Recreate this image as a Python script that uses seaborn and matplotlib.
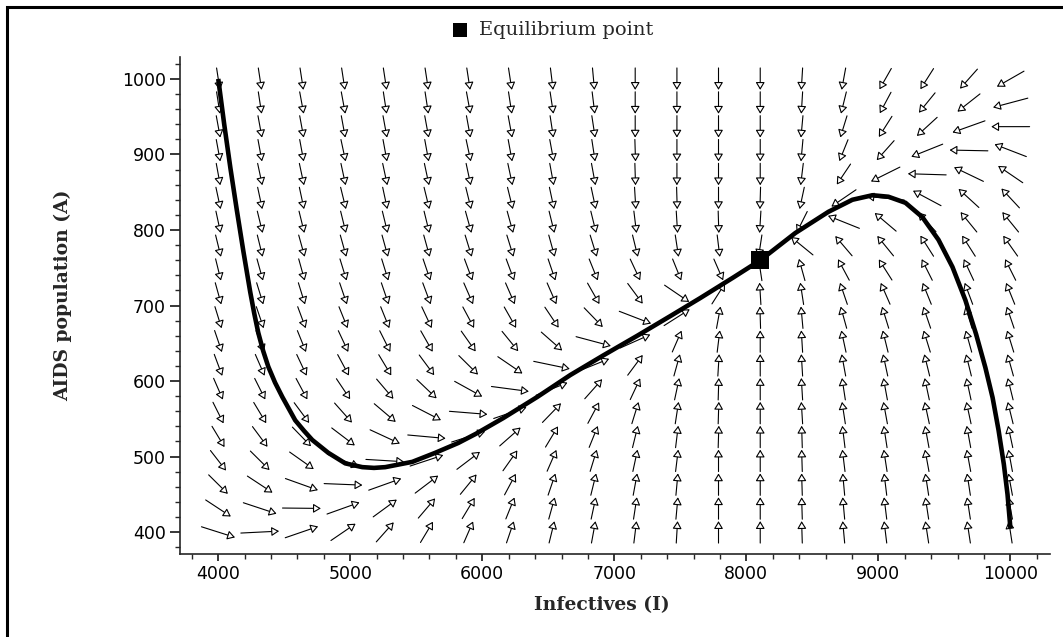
import numpy as np
import pandas as pd
import matplotlib
matplotlib.use("Agg")
import matplotlib.pyplot as plt
import seaborn as sns
from matplotlib.patches import FancyArrowPatch, Rectangle
from matplotlib.ticker import MultipleLocator

# ---- direction-field sample grid -------------------------------------------
infectives_grid = [4000, 4316, 4632, 4947, 5263, 5579, 5895, 6211, 6526, 6842,
                   7158, 7474, 7789, 8105, 8421, 8737, 9053, 9368, 9684, 10000]
aids_grid = [400.0, 431.6, 463.2, 494.7, 526.3, 557.9, 589.5, 621.1, 652.6, 684.2,
             715.8, 747.4, 778.9, 810.5, 842.1, 873.7, 905.3, 936.8, 968.4, 1000.0]

# arrow heading in degrees (measured in grid-cell units), one list per column,
# bottom row (A = 400) first
field_angles = [
    [-29, -49, -60, -66, -71, -74, -76, -78, -79, -80, -81, -82, -82, -83, -83, -84, -84, -84, -85, -85],
    [5, -30, -49, -60, -67, -71, -74, -76, -78, -79, -80, -81, -82, -82, -83, -83, -84, -84, -85, -85],
    [31, -1, -32, -51, -61, -67, -73, -75, -77, -78, -80, -81, -81, -82, -83, -83, -84, -84, -84, -85],
    [50, 32, -4, -35, -53, -63, -69, -73, -75, -77, -79, -80, -81, -82, -82, -83, -83, -84, -84, -85],
    [63, 52, 32, -6, -39, -56, -64, -71, -74, -77, -79, -80, -81, -82, -83, -83, -84, -84, -85, -85],
    [71, 64, 53, 30, -9, -42, -59, -67, -72, -75, -78, -79, -81, -82, -82, -83, -84, -84, -85, -85],
    [76, 71, 65, 53, 29, -8, -44, -60, -68, -73, -76, -78, -80, -81, -82, -83, -83, -84, -84, -85],
    [79, 77, 73, 68, 57, 31, -13, -50, -65, -72, -76, -78, -80, -81, -82, -83, -84, -84, -85, -85],
    [82, 81, 79, 76, 71, 61, 35, -20, -57, -69, -76, -79, -81, -82, -83, -84, -84, -85, -85, -86],
    [84, 83, 82, 80, 77, 73, 63, 35, -25, -61, -72, -77, -80, -82, -83, -84, -85, -85, -86, -87],
    [86, 85, 84, 83, 82, 80, 75, 67, 38, -34, -67, -75, -82, -86, -88, -89, -89, -90, -90, -90],
    [88, 87, 87, 86, 86, 85, 83, 81, 76, 48, -50, -77, -85, -88, -89, -90, -90, -90, -90, -90],
    [90, 90, 90, 90, 89, 89, 89, 88, 86, 84, 70, -76, -86, -89, -90, -90, -90, -90, -90, -90],
    [90, 90, 90, 90, 90, 90, 90, 90, 90, 91, 92, 95, -95, -92, -91, -90, -90, -90, -90, -90],
    [91, 91, 91, 91, 91, 92, 92, 92, 92, 93, 95, 99, 125, -106, -97, -94, -93, -93, -92, -92],
    [93, 93, 93, 94, 94, 95, 95, 96, 97, 99, 101, 107, 116, 145, -130, -111, -103, -100, -98, -96],
    [94, 94, 94, 95, 95, 96, 96, 97, 98, 100, 104, 110, 115, 124, 170, -139, -117, -110, -107, -108],
    [95, 95, 95, 96, 96, 97, 97, 98, 100, 101, 103, 106, 110, 118, 137, 177, -145, -122, -115, -110],
    [95, 95, 95, 96, 96, 97, 97, 98, 99, 100, 102, 105, 110, 115, 122, 140, 178, -148, -126, -117],
    [95, 96, 96, 96, 97, 98, 98, 99, 100, 101, 103, 106, 112, 115, 118, 130, 146, 180, -155, -135],
]

# solution curve starting at (4000, 1000) and running into the equilibrium
traj_left_I = [4000, 4045, 4092, 4140, 4190, 4242, 4272, 4303, 4340, 4379, 4430, 4485,
               4583, 4650, 4712, 4833, 4962, 5091, 5180, 5265, 5470, 5644, 5818, 5950,
               6159, 6417, 6667, 6917, 7174, 7424, 7652, 7900, 8106]
traj_left_A = [1000, 940, 882, 827, 772, 718, 690, 664, 640, 619, 598, 579,
               548, 534, 522, 505, 491, 486, 485, 486, 493, 505, 518, 530,
               551, 579, 608, 634, 660, 686, 710, 737, 760]

# solution curve starting at (10000, 405) and running into the equilibrium
traj_right_I = [10000, 9978, 9950, 9910, 9865, 9810, 9740, 9659, 9561, 9455, 9333,
                9205, 9076, 8955, 8803, 8621, 8371, 8106]
traj_right_A = [405, 450, 490, 535, 578, 618, 662, 707, 751, 787, 817,
                836, 844, 846, 840, 824, 796, 760]

equilibrium_I = [8106]
equilibrium_A = [760]

# ---- styling ----------------------------------------------------------------
sns.set_style("ticks")
plt.rcParams["font.family"] = ["DejaVu Sans"]
plt.rcParams["axes.linewidth"] = 1.2
plt.rcParams["xtick.major.width"] = 1.1
plt.rcParams["ytick.major.width"] = 1.1
plt.rcParams["xtick.minor.width"] = 1.0
plt.rcParams["ytick.minor.width"] = 1.0

fig = plt.figure(figsize=(10.63, 6.37), dpi=100)
fig.patch.set_facecolor("white")
ax = fig.add_axes([0.1693, 0.1303, 0.8185, 0.7802])
ax.set_facecolor("white")

# ---- direction field ----------------------------------------------------------
cell_I = infectives_grid[1] - infectives_grid[0]
cell_A = aids_grid[1] - aids_grid[0]
half_len = 0.46
for j, I0 in enumerate(infectives_grid):
    for i, A0 in enumerate(aids_grid):
        th = np.deg2rad(field_angles[j][i])
        hx = np.cos(th) * cell_I * half_len
        hy = np.sin(th) * cell_A * half_len
        arrow = FancyArrowPatch((I0 - hx, A0 - hy), (I0 + hx, A0 + hy),
                                arrowstyle="-|>,head_length=0.75,head_width=0.45",
                                mutation_scale=6, lw=0.8, ec="black", fc="white",
                                shrinkA=0, shrinkB=0, zorder=2)
        ax.add_patch(arrow)

# ---- solution curves ---------------------------------------------------------
left = pd.DataFrame({"I": traj_left_I, "A": traj_left_A})
right = pd.DataFrame({"I": traj_right_I, "A": traj_right_A})
for df in (left, right):
    sns.lineplot(data=df, x="I", y="A", sort=False, estimator=None, color="black",
                 lw=3.3, solid_joinstyle="round", solid_capstyle="butt",
                 ax=ax, zorder=3)

sns.scatterplot(x=equilibrium_I, y=equilibrium_A, marker="s", s=180, color="black",
                edgecolor="black", linewidth=0, label="Equilibrium point",
                ax=ax, zorder=4)

# ---- axes ----------------------------------------------------------------
ax.set_xlim(3710, 10300)
ax.set_ylim(371, 1029)
ax.set_xticks([4000, 5000, 6000, 7000, 8000, 9000, 10000])
ax.set_yticks([400, 500, 600, 700, 800, 900, 1000])
ax.xaxis.set_minor_locator(MultipleLocator(200))
ax.yaxis.set_minor_locator(MultipleLocator(20))
ax.tick_params(axis="x", which="major", length=5, pad=3, labelsize=12.5, colors="black")
ax.tick_params(axis="x", which="minor", length=3.5)
ax.tick_params(axis="y", which="major", length=7, pad=3, labelsize=12.5, colors="black")
ax.tick_params(axis="y", which="minor", length=3.5)
sns.despine(ax=ax)

ax.set_xlabel("Infectives (I)", family="DejaVu Serif", fontweight="bold",
              fontsize=13.5, va="center")
ax.xaxis.set_label_coords(0.485, -0.103)
ax.set_ylabel("AIDS population (A)", family="DejaVu Serif", fontweight="bold",
              fontsize=13.5, va="center")
ax.yaxis.set_label_coords(-0.135, 0.52)

ax.legend(loc="center left", bbox_to_anchor=(450 / 1063, 0.953),
          bbox_transform=fig.transFigure, frameon=False, markerscale=0.75,
          handletextpad=0.5, handlelength=1.0, borderaxespad=0, borderpad=0,
          prop={"family": "DejaVu Serif", "size": 14})

# outer frame of the figure
fig.add_artist(Rectangle((7 / 1063, -0.5), 2.0, 0.5 + 1 - 7 / 637,
                         transform=fig.transFigure, fill=False, lw=2.2,
                         ec="black", clip_on=False))

fig.savefig("out.png", dpi=100)
